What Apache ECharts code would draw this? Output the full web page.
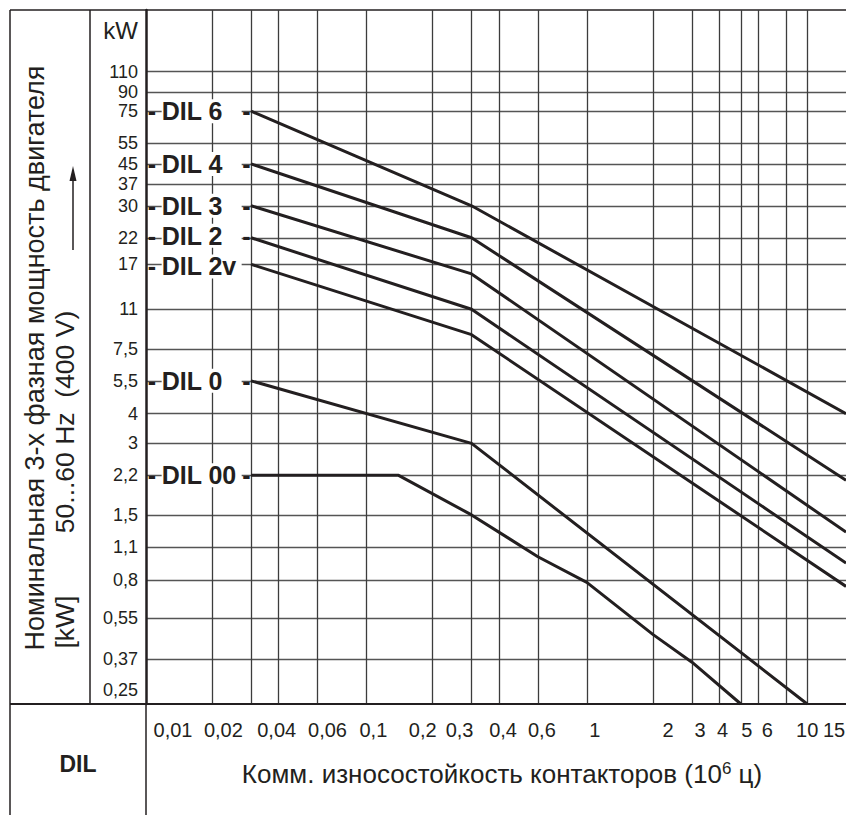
<!DOCTYPE html>
<html>
<head>
<meta charset="utf-8">
<title>DIL</title>
<script src="https://cdn.jsdelivr.net/npm/echarts@6/dist/echarts.min.js"></script>
<style>
  html, body { margin: 0; padding: 0; background: #fff; }
  #chart { width: 846px; height: 815px; }
</style>
</head>
<body>
<div id="chart"></div>
<script>
// x: switching cycles (10^6), y: rated motor power (kW)
const xLabels = [0.01, 0.02, 0.04, 0.06, 0.1, 0.2, 0.3, 0.4, 0.6, 1, 2, 3, 4, 5, 6, 10, 15];
const xGridValues = [0.02, 0.03, 0.04, 0.06, 0.1, 0.2, 0.3, 0.4, 0.6, 1, 2, 3, 4, 5, 6, 8, 10];
const yLabels = [0.25, 0.37, 0.55, 0.8, 1.1, 1.5, 2.2, 3, 4, 5.5, 7.5, 11, 17, 22, 30, 37, 45, 55, 75, 90, 110];
const yGridValues = [0.37, 0.55, 0.8, 1.1, 1.5, 2.2, 3, 4, 5.5, 7.5, 11, 17, 22, 30, 37, 45, 55, 75, 90, 110];

const names = ["DIL 6", "DIL 4", "DIL 3", "DIL 2", "DIL 2v", "DIL 0", "DIL 00"];
const dil6 = [[0.03, 75], [0.3, 30], [15, 4]];
const dil4 = [[0.03, 45], [0.3, 22], [15, 2.1]];
const dil3 = [[0.03, 30], [0.3, 15.5], [15, 1.27]];
const dil2 = [[0.03, 22], [0.3, 11], [15, 0.94]];
const dil2v = [[0.03, 17], [0.3, 8.6], [15, 0.75]];
const dil0 = [[0.03, 5.5], [0.3, 3], [10, 0.24]];
const dil00 = [[0.03, 2.2], [0.14, 2.2], [0.3, 1.5], [0.6, 1.0], [1, 0.78], [2, 0.47], [3, 0.36], [5, 0.24]];
const curves = [dil6, dil4, dil3, dil2, dil2v, dil0, dil00];

// how far (px) each x label sits off its tick in the drawing
const xLabelShift = [27, 11, -2, 10, 7, -10, -12, 4, 4, 8, 15, 8, 3, 6, 9, 0, -12];

const ink = "#231f20";
const font = "'Liberation Sans', Arial, sans-serif";
const comma = (v) => String(v).replace(".", ",");

var myChart = echarts.init(document.getElementById("chart"), null, { renderer: "svg" });

const xRich = {};
xLabelShift.forEach((s, i) => {
  xRich["p" + i] = {
    color: ink, fontSize: 20, fontFamily: font,
    padding: s >= 0 ? [0, 0, 0, 2 * s] : [0, -2 * s, 0, 0],
  };
});

const dilText = { fontSize: 25, lineHeight: 24, fontWeight: "bold", color: ink, fontFamily: font };

const series = curves.map((pts, i) => ({
  type: "line",
  name: names[i],
  silent: true,
  animation: false,
  symbol: "circle",
  symbolSize: 1,
  showSymbol: true,
  itemStyle: { color: ink },
  lineStyle: { color: ink, width: 3 },
  emphasis: { disabled: true },
  z: 3,
  label: {
    show: false,
    position: "left",
    distance: 0,
    lineHeight: 24,
    // DIL 2 and DIL 2v sit close together, nudge them apart a little
    offset: names[i] === "DIL 2" ? [0, -2] : names[i] === "DIL 2v" ? [0, 2] : [0, 0],
    formatter: names[i] === "DIL 2v" ? "{a|-}{b|" + names[i] + "}{c| }" : "{a|-}{b|" + names[i] + "}{c|-}",
    rich: {
      a: Object.assign({ width: 14, align: "left" }, dilText),
      b: Object.assign({ width: 80, height: 24, align: "left", backgroundColor: "#fff" }, dilText),
      c: Object.assign({ width: 9, align: "right" }, dilText),
    },
  },
  data: pts.map((p, j) => (j === 0 ? { value: p, label: { show: true } } : p)),
}));

const option = {
  animation: false,
  grid: { left: 146, right: 0, top: 10, bottom: 111, containLabel: false, outerBoundsMode: "none" },
  xAxis: {
    type: "log",
    logBase: 10,
    min: 0.01,
    max: 15,
    axisLine: { show: true, lineStyle: { color: ink, width: 2 } },
    axisTick: { show: false, customValues: xGridValues },
    splitLine: { show: true, lineStyle: { color: "#3c3c3c", width: 1.3 } },
    minorSplitLine: { show: false },
    axisLabel: {
      customValues: xLabels,
      formatter: (v) => {
        const i = xLabels.findIndex((x) => Math.abs(x - v) < 1e-9);
        return "{p" + i + "|" + comma(v) + "}";
      },
      rich: xRich,
      color: ink,
      fontSize: 20,
      fontFamily: font,
      margin: 16,
      hideOverlap: false,
      showMinLabel: true,
      showMaxLabel: true,
    },
    name: "Комм. износостойкость контакторов (10{s|6} ц)",
    nameLocation: "middle",
    nameGap: 56,
    nameTextStyle: {
      color: ink,
      fontSize: 26,
      fontFamily: font,
      padding: [0, 0, 0, 12],
      rich: { s: { fontSize: 17, verticalAlign: "top", color: ink, fontFamily: font, padding: [0, 0, 10, 0] } },
    },
  },
  yAxis: {
    type: "log",
    logBase: 10,
    min: 0.24,
    max: 200,
    axisLine: { show: true, lineStyle: { color: ink, width: 2.5 } },
    axisTick: { show: false, customValues: yGridValues },
    splitLine: { show: true, lineStyle: { color: "#555", width: 1.3 } },
    minorSplitLine: { show: false },
    axisLabel: {
      customValues: yLabels,
      formatter: (v) => (Math.abs(v - 0.25) < 1e-9 ? "{low|0,25}" : comma(v)),
      rich: { low: { color: ink, fontSize: 18, fontFamily: font, lineHeight: 17, padding: [0, 0, 20, 0] } },
      color: ink,
      fontSize: 18,
      lineHeight: 17,
      fontFamily: font,
      margin: 8,
      hideOverlap: false,
      showMinLabel: true,
      showMaxLabel: true,
    },
  },
  graphic: [
    { type: "line", shape: { x1: 10, y1: 10, x2: 846, y2: 10 }, style: { stroke: ink, lineWidth: 1.5 } },
    { type: "line", shape: { x1: 10, y1: 10, x2: 10, y2: 815 }, style: { stroke: ink, lineWidth: 1.5 } },
    { type: "line", shape: { x1: 90, y1: 10, x2: 90, y2: 704 }, style: { stroke: ink, lineWidth: 1.5 } },
    { type: "line", shape: { x1: 10, y1: 704, x2: 146, y2: 704 }, style: { stroke: ink, lineWidth: 2 } },
    { type: "line", shape: { x1: 146, y1: 704, x2: 146, y2: 815 }, style: { stroke: ink, lineWidth: 1.5 } },
    {
      type: "text", x: 35, y: 358, rotation: Math.PI / 2,
      style: { text: "Номинальная 3-х фазная мощность двигателя", fill: ink, font: "27px " + font, align: "center", verticalAlign: "middle" },
    },
    {
      type: "text", x: 65, y: 422, rotation: Math.PI / 2,
      style: { text: "50...60 Hz  (400 V)", fill: ink, font: "26.5px " + font, align: "center", verticalAlign: "middle" },
    },
    {
      type: "text", x: 65, y: 622, rotation: Math.PI / 2,
      style: { text: "[kW]", fill: ink, font: "26.5px " + font, align: "center", verticalAlign: "middle" },
    },
    { type: "line", shape: { x1: 73, y1: 250, x2: 73, y2: 178 }, style: { stroke: ink, lineWidth: 1.5 } },
    { type: "polygon", shape: { points: [[73, 166], [69.5, 181], [76.5, 181]] }, style: { fill: ink } },
    {
      type: "text", x: 138, y: 30,
      style: { text: "kW", fill: ink, font: "24px " + font, align: "right", verticalAlign: "middle" },
    },
    {
      type: "text", x: 78, y: 764,
      style: { text: "DIL", fill: ink, font: "bold 23px " + font, align: "center", verticalAlign: "middle" },
    },
  ],
  series: series,
};

myChart.setOption(option, true);
</script>
</body>
</html>
